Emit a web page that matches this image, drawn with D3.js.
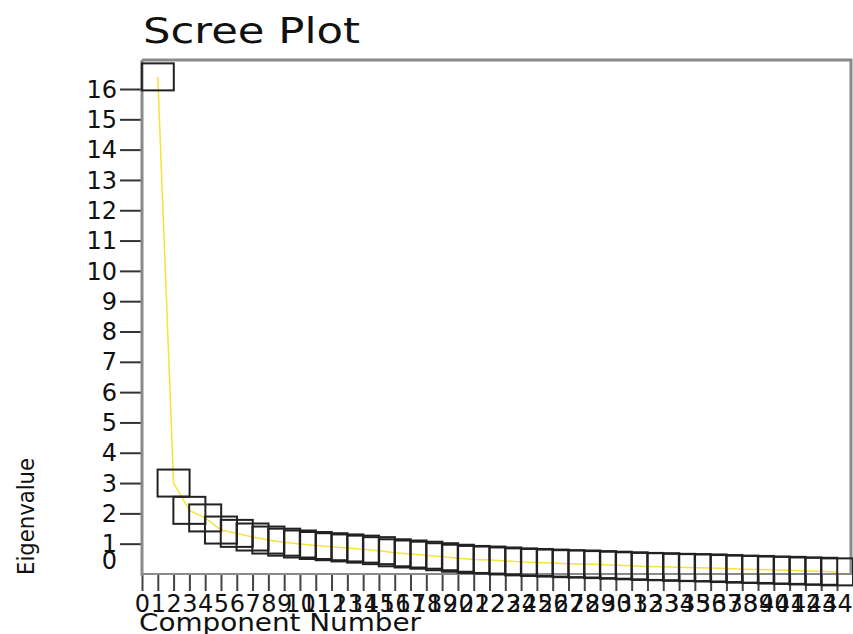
<!DOCTYPE html>
<html>
<head>
<meta charset="utf-8">
<script src="https://cdn.jsdelivr.net/npm/d3@7"></script>
<style>
  body { margin: 0; background: #fff; }
  text { font-family: "DejaVu Sans", sans-serif; fill: #111; }
</style>
</head>
<body>
<script>
// component numbers and eigenvalues
var components = d3.range(1, 45);
var eigenvalues = [16.4, 3.0, 2.1, 1.85, 1.45, 1.34, 1.22, 1.12, 1.05, 0.99,
                   0.94, 0.90, 0.86, 0.82, 0.77, 0.70, 0.66, 0.62, 0.57, 0.52,
                   0.48, 0.46, 0.43, 0.40, 0.38, 0.36, 0.34, 0.33, 0.31, 0.29,
                   0.27, 0.25, 0.24, 0.22, 0.21, 0.20, 0.18, 0.16, 0.15, 0.13,
                   0.12, 0.10, 0.09, 0.07];
var xTicks = d3.range(0, 45);
var yTicks = d3.range(0, 17);

var svg_width = 853;
var svg_height = 634;

var svg = d3.select('body')
            .append('svg')
            .attr('width', svg_width)
            .attr('height', svg_height);

var x = d3.scaleLinear().domain([0, 44]).range([142, 837]);
var y = d3.scaleLinear().domain([0, 16]).range([574, 89]);

var frameTop = 60;
var frameRight = 851;

// frame (top + right) in gray
svg.append('path')
   .attr('d', 'M' + x(0) + ',' + frameTop + 'H' + frameRight + 'V' + y(0))
   .attr('fill', 'none')
   .attr('stroke', '#8a8a8a')
   .attr('stroke-width', 3);

// y axis
var yAxis = svg.append('g')
   .attr('transform', 'translate(' + x(0) + ',0)')
   .call(d3.axisLeft(y).tickValues(yTicks).tickSize(22).tickPadding(3).tickFormat(d3.format('d')));
yAxis.select('.domain').remove();
yAxis.selectAll('.tick line').attr('stroke', '#333').attr('stroke-width', 2);
yAxis.selectAll('.tick text')
     .style('font-size', '24px')
     .attr('fill', '#111')
     .attr('dy', function(d) { return d === 0 ? '-0.25em' : '0.34em'; });
yAxis.selectAll('.tick').filter(function(d) { return d === 0; }).select('line').remove();

// x axis
var xAxis = svg.append('g')
   .attr('transform', 'translate(0,' + y(0) + ')')
   .call(d3.axisBottom(x).tickValues(xTicks).tickSize(17).tickPadding(4).tickFormat(d3.format('d')));
xAxis.select('.domain').remove();
xAxis.selectAll('.tick line').attr('stroke', '#444').attr('stroke-width', 2);
xAxis.selectAll('.tick text')
     .style('font-size', '24px')
     .attr('fill', '#111')
     .attr('dy', '0.72em');

// axis lines
svg.append('line')
   .attr('x1', x(0)).attr('x2', x(0))
   .attr('y1', frameTop).attr('y2', y(0) + 2)
   .attr('stroke', '#8a8a8a').attr('stroke-width', 3);
svg.append('line')
   .attr('x1', x(0)).attr('x2', frameRight + 2)
   .attr('y1', y(0)).attr('y2', y(0))
   .attr('stroke', '#8a8a8a').attr('stroke-width', 2);

// yellow scree line
var line = d3.line()
   .x(function(d, i) { return x(components[i]); })
   .y(function(d) { return y(d); });

svg.append('path')
   .datum(eigenvalues)
   .attr('d', line)
   .attr('fill', 'none')
   .attr('stroke', '#f6e23a')
   .attr('stroke-width', 1.5);

// square markers
var boxW = 32, boxH = 27;
svg.selectAll('.marker')
   .data(eigenvalues)
   .enter()
   .append('rect')
   .attr('class', 'marker')
   .attr('x', function(d, i) { return x(components[i]) - boxW / 2; })
   .attr('y', function(d) { return y(d) - boxH / 2; })
   .attr('width', boxW)
   .attr('height', boxH)
   .attr('fill', 'none')
   .attr('stroke', '#222')
   .attr('stroke-width', 2);

// titles
svg.append('text')
   .attr('x', 143)
   .attr('y', 43)
   .attr('textLength', 217)
   .attr('lengthAdjust', 'spacingAndGlyphs')
   .style('font-size', '35px')
   .text('Scree Plot');

svg.append('text')
   .attr('x', 139)
   .attr('y', 631)
   .attr('textLength', 282)
   .attr('lengthAdjust', 'spacingAndGlyphs')
   .style('font-size', '24px')
   .text('Component Number');

svg.append('text')
   .attr('transform', 'translate(34,575) rotate(-90)')
   .attr('textLength', 117)
   .attr('lengthAdjust', 'spacingAndGlyphs')
   .style('font-size', '23px')
   .text('Eigenvalue');
</script>
</body>
</html>
